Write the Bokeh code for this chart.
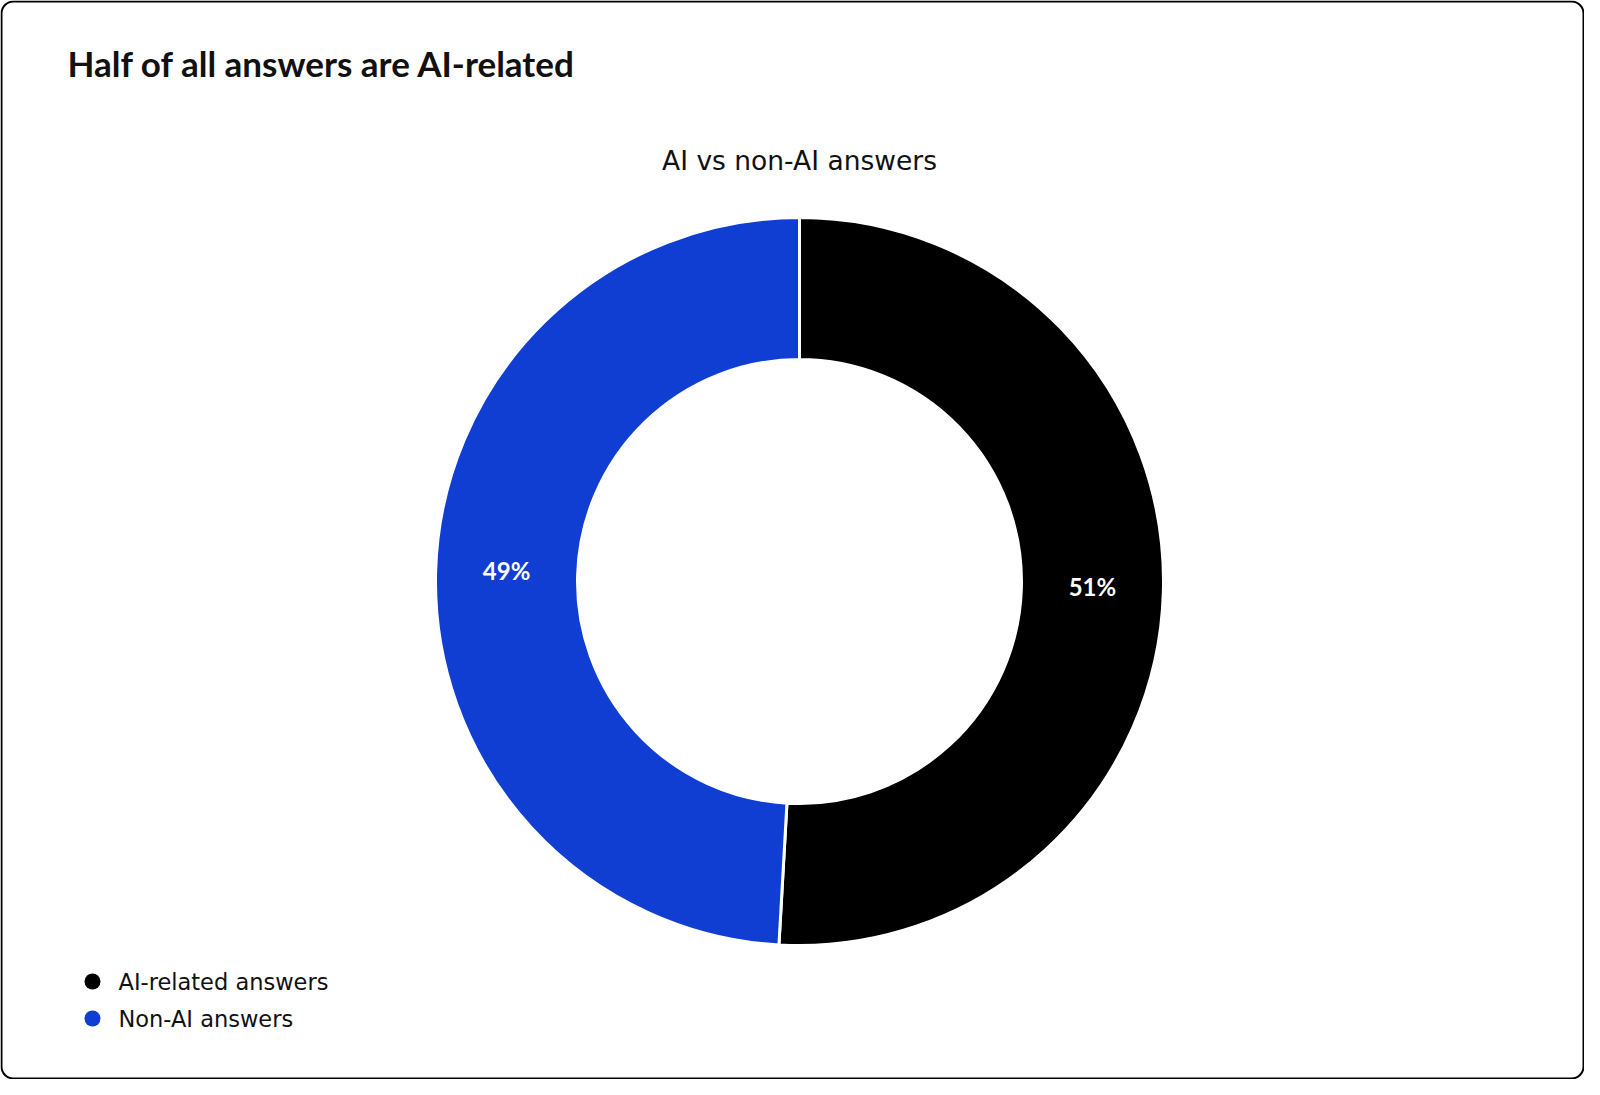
import math
from bokeh.plotting import figure
from bokeh.models import Range1d, ColumnDataSource
from bokeh.core.properties import value
from bokeh.embed import file_html
from bokeh.resources import INLINE

# ---- data ----
categories = ["AI-related answers", "Non-AI answers"]
shares = [50.9, 49.1]
labels = ["51%", "49%"]
colors = ["#000000", "#103ED3"]

title_text = "Half of all answers are AI-related"
subtitle_text = "AI vs non-AI answers"
TITLE_FONT = "Lato"
FONT = "DejaVu Sans"

W, H = 1584, 1079
p = figure(width=W, height=H, x_range=Range1d(0, W), y_range=Range1d(0, H),
           output_backend="svg", toolbar_location=None, min_border=0,
           background_fill_color="white", border_fill_color="white")
p.axis.visible = False
p.grid.visible = False
p.outline_line_color = None

def fy(ref_y):
    return H - ref_y

def fx(ref_x):
    return ref_x

# frame
p.quad(left=1, right=W - 1, bottom=1, top=H - 1, fill_color=None,
       line_color="black", line_width=2, border_radius=12)

# donut
cx, cy = fx(799), fy(581)
r_in, r_out = 222, 364
total = sum(shares)
starts, ends, mids = [], [], []
a = math.pi / 2
for s in shares:
    da = 2 * math.pi * s / total
    starts.append(a)
    ends.append(a - da)
    mids.append(a - da / 2)
    a -= da

src = ColumnDataSource(dict(cat=categories, start=starts, end=ends, color=colors,
                            x=[cx] * 2, y=[cy] * 2))
p.annular_wedge(x="x", y="y", inner_radius=r_in, outer_radius=r_out,
                start_angle="start", end_angle="end", direction="clock",
                fill_color="color", line_color="white", line_width=3, source=src)

r_lab = (r_in + r_out) / 2
lx = [cx + r_lab * math.cos(m) for m in mids]
ly = [cy + r_lab * math.sin(m) + 3 for m in mids]
p.text(x=lx, y=ly, text=labels, text_color="white", text_font=value(TITLE_FONT),
       text_font_style="bold", text_font_size="24px", text_align="center",
       text_baseline="middle")

# title and subtitle
p.text(x=[fx(67)], y=[fy(62)], text=[title_text], text_font=value(TITLE_FONT),
       text_font_style="bold", text_font_size="35px", text_color="#111111",
       text_align="left", text_baseline="middle")
p.text(x=[fx(799)], y=[fy(160)], text=[subtitle_text], text_font=value(FONT),
       text_font_size="26.5px", text_color="#111111", text_align="center",
       text_baseline="middle")

# legend
leg_y = [fy(981), fy(1018)]
p.scatter(x=[fx(92)] * 2, y=[fy(981), fy(1018)], size=16, marker="circle",
          fill_color=colors, line_color=None)
p.text(x=[fx(118)] * 2, y=leg_y, text=categories, text_font=value(FONT),
       text_font_size="22.5px", text_color="#111111", text_align="left",
       text_baseline="middle")

open("out.html", "w").write(file_html(p, INLINE))
